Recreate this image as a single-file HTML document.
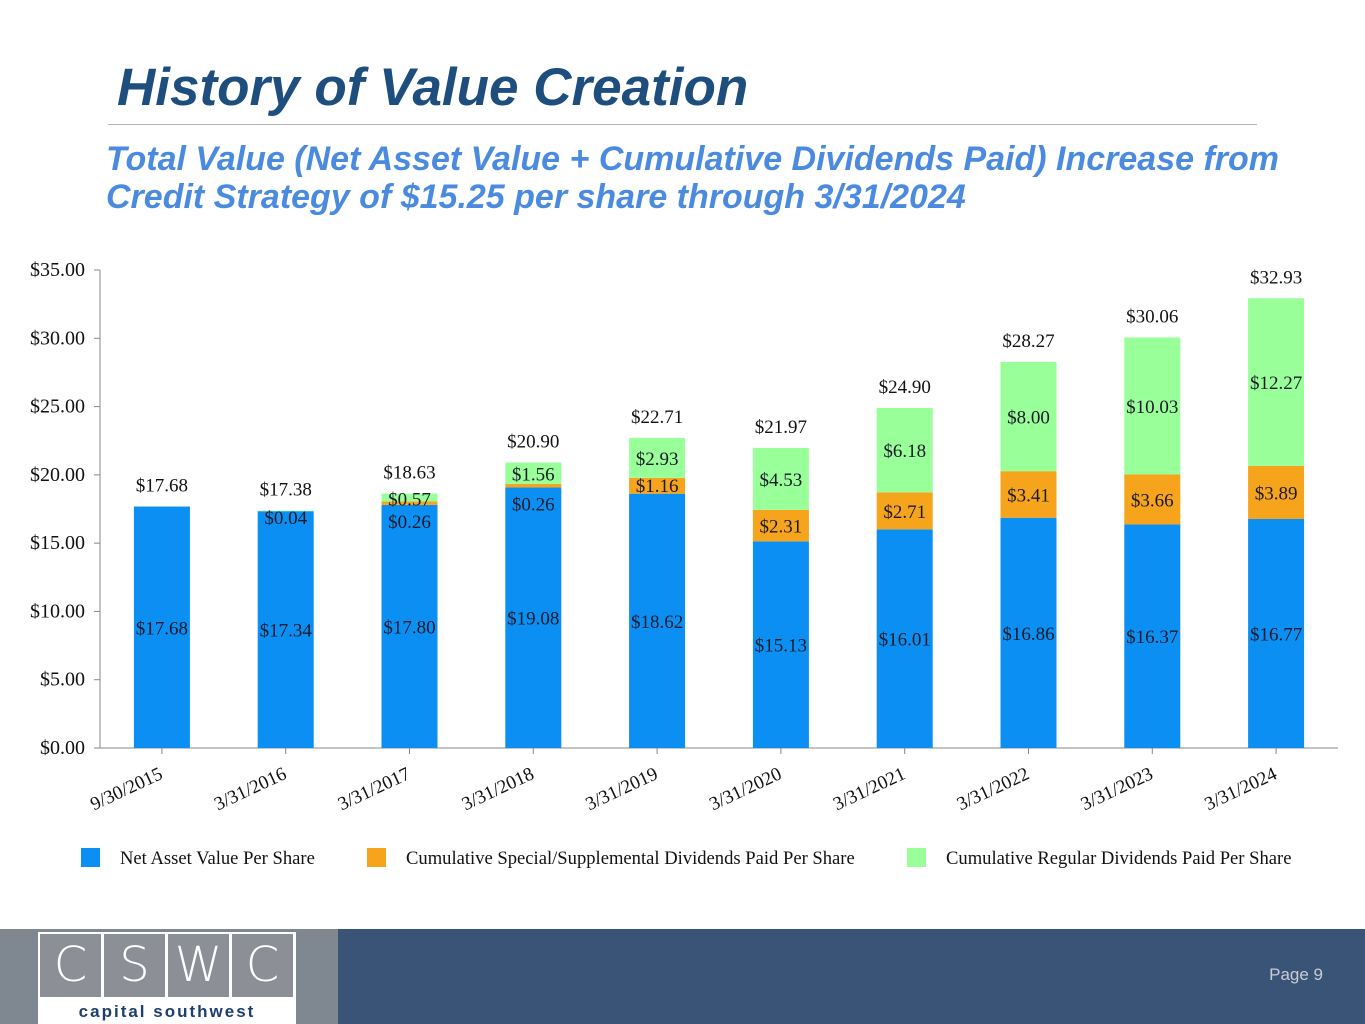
<!DOCTYPE html>
<html><head><meta charset="utf-8"><style>
body{margin:0;width:1365px;height:1024px;position:relative;background:#fff;overflow:hidden;font-family:"Liberation Sans",sans-serif}
#title{position:absolute;left:117px;top:57px;font:italic bold 53px "Liberation Sans",sans-serif;color:#1d4e7e;margin:0}
#rule{position:absolute;left:108px;top:124px;width:1149px;height:1px;background:#b4b4b4}
#sub{position:absolute;left:106px;top:140px;font:italic bold 34px/38px "Liberation Sans",sans-serif;color:#4a8be0}
#footer{position:absolute;left:0;top:929px;width:1365px;height:95px;background:#3a5478}
#fgray{position:absolute;left:0;top:0;width:338px;height:95px;background:#7f8791}
#logo{position:absolute;left:38px;top:3px;width:258px;height:92px;background:#fff}
.cell{position:absolute;top:2px;width:61px;height:63px;background:#8c9096;color:#fff;font:48px/63px "DejaVu Sans",sans-serif;text-align:center;font-weight:200}
#logotext{position:absolute;left:0;width:258px;top:70px;text-align:center;color:#1d3f6e;font:bold 17px "Liberation Sans",sans-serif;letter-spacing:2px}
#page{position:absolute;right:42px;top:36px;color:#c8ccd4;font:17px "Liberation Sans",sans-serif}
</style></head><body>
<h1 id="title">History of Value Creation</h1>
<div id="rule"></div>
<div id="sub">Total Value (Net Asset Value + Cumulative Dividends Paid) Increase from<br>Credit Strategy of $15.25 per share through 3/31/2024</div>
<svg id="chart" width="1365" height="900" style="position:absolute;left:0;top:0" font-family="Liberation Serif, serif"></svg>
<div id="footer">
 <div id="fgray">
  <div id="logo">
   <div class="cell" style="left:2px">C</div><div class="cell" style="left:66px">S</div><div class="cell" style="left:130px">W</div><div class="cell" style="left:194px">C</div>
   <div id="logotext">capital southwest</div>
  </div>
 </div>
 <div id="page">Page 9</div>
</div>
<script>
const categories=["9/30/2015","3/31/2016","3/31/2017","3/31/2018","3/31/2019","3/31/2020","3/31/2021","3/31/2022","3/31/2023","3/31/2024"];
const navValues=[17.68,17.34,17.80,19.08,18.62,15.13,16.01,16.86,16.37,16.77];
const specialValues=[0,0,0.26,0.26,1.16,2.31,2.71,3.41,3.66,3.89];
const regularValues=[0,0.04,0.57,1.56,2.93,4.53,6.18,8.00,10.03,12.27];
const totalLabels=["$17.68","$17.38","$18.63","$20.90","$22.71","$21.97","$24.90","$28.27","$30.06","$32.93"];
const yTicks=[0,5,10,15,20,25,30,35];
const seriesNames=["Net Asset Value Per Share","Cumulative Special/Supplemental Dividends Paid Per Share","Cumulative Regular Dividends Paid Per Share"];
const colors=["#0b8ff2","#f6a41b","#99ff99"];
const svg=document.getElementById('chart');const NS='http://www.w3.org/2000/svg';
const x0=100,plotW=1238,y0=748,pxPer=478/35,bw=56,FS=19;
const y=v=>y0-v*pxPer;const xc=i=>x0+plotW/categories.length*(i+0.5);
function mk(t,a,p){const e=document.createElementNS(NS,t);for(const k in a)e.setAttribute(k,a[k]);(p||svg).appendChild(e);return e;}
function txt(s,a,p){const e=mk('text',Object.assign({'font-size':FS,fill:'#111','text-anchor':'middle'},a),p);e.textContent=s;return e;}
let ax=mk('line',{x1:x0,y1:270,x2:x0,y2:y0,stroke:'#888'});


let bx=mk('line',{x1:x0,y1:y0,x2:x0+plotW,y2:y0,stroke:'#888'});


yTicks.forEach(v=>{mk('line',{x1:x0-6,y1:y(v),x2:x0,y2:y(v),stroke:'#888'});
 const t=txt('$'+v.toFixed(2),{x:x0-15,y:y(v)+6,'text-anchor':'end','font-size':20});
 
 });
const sets=[navValues,specialValues,regularValues];
categories.forEach((c,i)=>{
 let base=0;
 const g=mk('g',{});
 
 
 sets.forEach((arr,s)=>{const v=arr[i];if(v<=0)return;
  const r=mk('rect',{x:xc(i)-bw/2,y:y(base+v),width:bw,height:v*pxPer,fill:colors[s]},g);
  
  
  let ly=y(base+v/2)+7;
  if(s==1&&v<0.5)ly=y(base)+23;
  if(s==2&&v<0.1)ly=y(base)+13;
  if(s==2&&v>=0.1&&v<1)ly=y(base+v)+12;
  if(s==2&&v>=1&&v<2)ly=y(base+v)+18;
  if(s==1&&v>=1&&v<1.5)ly=y(base+v)+14;
  const t=txt('$'+v.toFixed(2),{x:xc(i),y:ly,fill:'#1a1a2a'},g);
  
  
  base+=v;});
 const t=txt(totalLabels[i],{x:xc(i),y:y(base)-15});
 
 
 mk('line',{x1:xc(i),y1:y0,x2:xc(i),y2:y0+6,stroke:'#888'});
 const xl=txt(c,{x:0,y:0,'text-anchor':'end',transform:`translate(${xc(i)+2},${y0+30}) rotate(-25)`});
 
 
});
const legX=[81,367,907];
seriesNames.forEach((n,s)=>{
 const r=mk('rect',{x:legX[s],y:848,width:19,height:19,fill:colors[s]});
 
 
 const t=txt(n,{x:legX[s]+39,y:864,'text-anchor':'start','font-size':18.6});
 
 
});
</script>
</body></html>
